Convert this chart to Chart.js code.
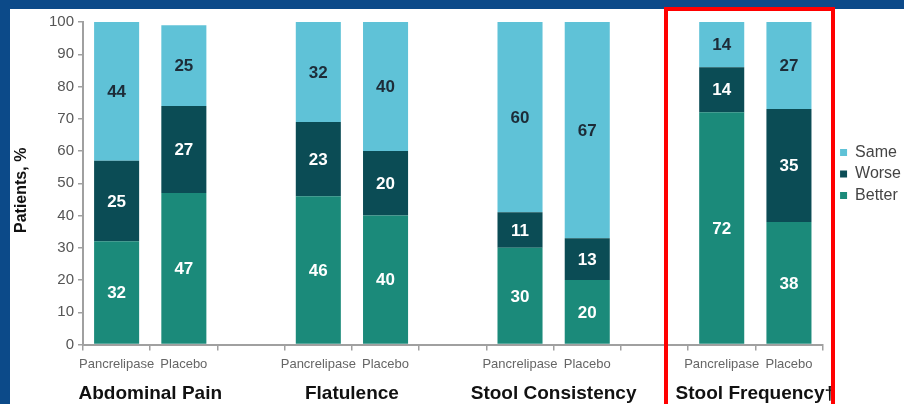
<!DOCTYPE html>
<html>
<head>
<meta charset="utf-8">
<script src="https://cdn.jsdelivr.net/npm/chart.js@4/dist/chart.umd.min.js"></script>
<style>
  html, body { margin: 0; padding: 0; overflow: hidden; width: 904px; height: 404px; background: #0c4a89; }
  #panel { position: absolute; left: 10px; top: 9px; width: 910px; height: 400px; background: #ffffff; }
  #highlight { position: absolute; left: 664px; top: 7px; width: 163px; height: 420px; border: 4px solid #ff0000; }
</style>
</head>
<body>
<div id="panel"><canvas id="chart" width="902" height="400"></canvas></div>
<div id="highlight"></div>
<script>
// Symptom groups and treatment arms
const groups = ['Abdominal Pain', 'Flatulence', 'Stool Consistency', 'Stool Frequency\u2020'];
const arms = ['Pancrelipase', 'Placebo'];

// Percent of patients per arm, in group order (Pancrelipase, Placebo)
const better = [32, 47, 46, 40, 30, 20, 72, 38];
const worse  = [25, 27, 23, 20, 11, 13, 14, 35];
const same   = [44, 25, 32, 40, 60, 67, 14, 27];

// Y axis range and title
const yMin = 0, yMax = 100, yStep = 10;
const yTitle = 'Patients, %';

const FONT = '"Liberation Sans", Arial, Helvetica, sans-serif';
const COLORS = { same: '#5fc2d7', worse: '#0b4c55', better: '#1b8a7a' };

// Lay the bars out with an empty slot between groups
const slotLabels = [];
const groupAxisLabels = [''];
function spread(values) {
  const out = [];
  groups.forEach((g, gi) => {
    arms.forEach((a, ai) => out.push(values[gi * arms.length + ai]));
    if (gi < groups.length - 1) out.push(null);
  });
  return out;
}
groups.forEach((g, gi) => {
  arms.forEach(a => slotLabels.push(a));
  groupAxisLabels.push(g, '');
  if (gi < groups.length - 1) { slotLabels.push(''); groupAxisLabels.push(''); }
});

// Value text in the middle of each visible segment
const segmentLabels = {
  id: 'segmentLabels',
  afterDatasetsDraw(chart) {
    const { ctx, chartArea } = chart;
    ctx.save();
    ctx.font = 'bold 17px ' + FONT;
    ctx.textAlign = 'center';
    ctx.textBaseline = 'middle';
    chart.data.datasets.forEach((ds, i) => {
      const meta = chart.getDatasetMeta(i);
      meta.data.forEach((bar, j) => {
        const v = ds.data[j];
        if (v == null) return;
        const top = Math.max(bar.y, chartArea.top);
        const y = (top + bar.base) / 2;
        ctx.fillStyle = ds.labelColor;
        ctx.fillText(String(v), bar.x, y + 1);
      });
    });
    ctx.restore();
  }
};

// Rotated y axis title, set a little below the axis middle
const yAxisTitle = {
  id: 'yAxisTitle',
  afterDraw(chart) {
    const { ctx, chartArea } = chart;
    const yScale = chart.scales.y;
    ctx.save();
    ctx.translate(yScale.left + 12, (chartArea.top + chartArea.bottom) / 2 + 7);
    ctx.rotate(-Math.PI / 2);
    ctx.font = 'bold 16px ' + FONT;
    ctx.fillStyle = '#111111';
    ctx.textAlign = 'center';
    ctx.textBaseline = 'middle';
    ctx.fillText(yTitle, 0, 0);
    ctx.restore();
  }
};

new Chart(document.getElementById('chart'), {
  type: 'bar',
  data: {
    labels: slotLabels,
    datasets: [
      { label: 'Better', data: spread(better), backgroundColor: COLORS.better, labelColor: '#ffffff' },
      { label: 'Worse',  data: spread(worse),  backgroundColor: COLORS.worse,  labelColor: '#ffffff' },
      { label: 'Same',   data: spread(same),   backgroundColor: COLORS.same,   labelColor: '#1d2c38' }
    ]
  },
  options: {
    responsive: false,
    animation: false,
    devicePixelRatio: 1,
    layout: { padding: { top: 6, right: 1, bottom: 0, left: 0 } },
    datasets: { bar: { barPercentage: 1, categoryPercentage: 0.67, borderWidth: 0 } },
    scales: {
      x: {
        stacked: true,
        position: 'bottom',
        weight: 0,
        grid: { drawOnChartArea: false, drawTicks: true, tickLength: 6, color: '#a0a0a0', lineWidth: 1.5 },
        border: { color: '#a0a0a0', width: 2 },
        ticks: { color: '#666666', font: { family: FONT, size: 13 }, padding: 6, autoSkip: false, maxRotation: 0 }
      },
      x2: {
        type: 'category',
        labels: groupAxisLabels,
        offset: false,
        position: 'bottom',
        weight: 1,
        grid: { display: false, drawTicks: false, tickLength: 0 },
        border: { display: false },
        ticks: { color: '#111111', font: { family: FONT, size: 19, weight: 'bold' }, padding: 4, autoSkip: false, maxRotation: 0 }
      },
      y: {
        stacked: true,
        min: yMin, max: yMax,
        afterFit(scale) { scale.width = 73; },
        grid: { drawOnChartArea: false, drawTicks: true, tickLength: 5, color: '#a0a0a0', lineWidth: 1.5 },
        border: { color: '#a0a0a0', width: 2 },
        ticks: { stepSize: yStep, color: '#555555', font: { family: FONT, size: 15 }, padding: 4 }
      },
      spacer: {
        type: 'linear',
        position: 'right',
        display: true,
        afterFit(scale) { scale.width = 12; },
        grid: { display: false },
        border: { display: false },
        ticks: { display: false }
      }
    },
    plugins: {
      tooltip: { enabled: false },
      legend: {
        position: 'right',
        reverse: true,
        align: 'start',
        title: { display: true, text: ' ', font: { size: 10 }, padding: { top: 112, bottom: 0 } },
        labels: { boxWidth: 7, boxHeight: 7, padding: 5.5, color: '#444444', font: { family: FONT, size: 16 } }
      }
    }
  },
  plugins: [segmentLabels, yAxisTitle]
});
</script>
</body>
</html>
